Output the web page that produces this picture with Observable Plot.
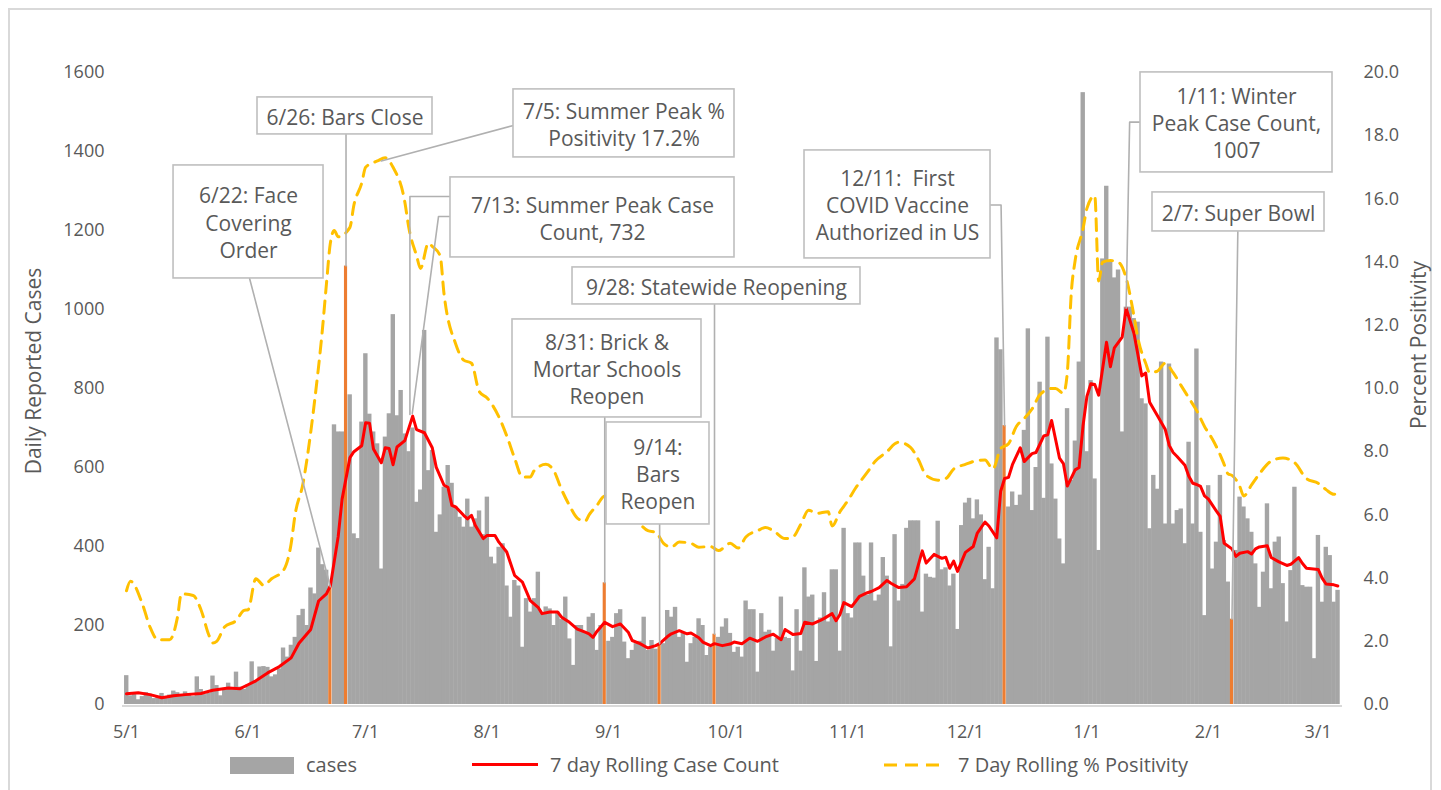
<!DOCTYPE html>
<html>
<head>
<meta charset="utf-8">
<script src="https://cdn.jsdelivr.net/npm/d3@7"></script>
<script src="https://cdn.jsdelivr.net/npm/@observablehq/plot@0.6"></script>
<style>
  body { margin: 0; background: #fff; font-family: "Open Sans", sans-serif; }
  #wrap { position: relative; width: 1441px; height: 790px; overflow: hidden; background: #fff; }
  #frame { position: absolute; left: 8px; top: 8px; width: 1424px; height: 800px; border: 2px solid #d9d9d9; box-sizing: border-box; }
  #chart { position: absolute; left: 0; top: 0; }
  .title { position: absolute; font-size: 21px; color: #595959; white-space: nowrap; transform: translate(-50%, -50%) rotate(-90deg); }
  .legt { position: absolute; font-size: 20px; color: #595959; white-space: nowrap; transform: translateY(-50%); line-height: 1; }
  .legbox { position: absolute; }
</style>
</head>
<body>
<div id="wrap">
  <div id="frame"></div>
  <div id="chart"></div>
  <div class="title" style="left:33px;top:371px;">Daily Reported Cases</div>
  <div class="title" style="left:1418px;top:345px;">Percent Positivity</div>
  <div class="legbox" style="left:230px;top:757px;width:64px;height:17px;background:#a5a5a5;"></div>
  <div class="legt" style="left:306px;top:765px;">cases</div>
  <div class="legbox" style="left:472px;top:763px;width:66px;height:3px;background:#ff0000;"></div>
  <div class="legt" style="left:550px;top:765px;">7 day Rolling Case Count</div>
  <svg class="legbox" style="left:884px;top:759px;" width="62" height="12"><line x1="0" y1="6" x2="62" y2="6" stroke="#ffc000" stroke-width="3" stroke-dasharray="13,8"></line></svg>
  <div class="legt" style="left:958px;top:765px;">7 Day Rolling % Positivity</div>
</div>
<script>
// ---------------- DATA ----------------
const startDay = "2020-05-01";

// daily reported cases, one value per day from 5/1/2020
const cases = [
  73, 22, 28, 12, 20, 30, 26, 15, 18, 28,
  20, 24, 34, 30, 22, 32, 28, 20, 70, 38,
  25, 28, 72, 48, 22, 36, 54, 40, 82, 44,
  38, 50, 108, 60, 95, 96, 94, 70, 75, 90,
  143, 120, 150, 170, 225, 241, 200, 295, 280, 396,
  354, 340, 298, 708, 690, 690, 1110, 784, 432, 420,
  715, 888, 735, 690, 660, 343, 677, 736, 987, 731,
  795, 685, 640, 700, 512, 543, 947, 592, 643, 436,
  480, 550, 605, 560, 500, 474, 449, 520, 449, 470,
  490, 430, 525, 373, 356, 398, 407, 300, 221, 314,
  300, 145, 268, 234, 268, 335, 230, 247, 242, 200,
  234, 215, 272, 166, 99, 200, 200, 180, 221, 230,
  137, 200, 308, 160, 170, 230, 240, 158, 116, 137,
  154, 160, 221, 137, 162, 140, 154, 154, 238, 221,
  246, 170, 180, 107, 154, 170, 217, 200, 124, 145,
  178, 170, 196, 217, 180, 132, 145, 120, 262, 240,
  240, 82, 230, 183, 188, 135, 167, 272, 170, 167,
  85, 240, 135, 346, 272, 277, 109, 219, 283, 209,
  341, 341, 135, 446, 230, 219, 409, 409, 325, 277,
  409, 262, 277, 372, 325, 146, 430, 262, 304, 446,
  465, 465, 465, 234, 330, 322, 320, 464, 341, 346,
  300, 330, 190, 453, 510, 522, 470, 518, 480, 316,
  398, 293, 928, 898, 706, 500, 538, 504, 530, 694,
  951, 491, 600, 816, 522, 930, 609, 520, 419, 356,
  749, 567, 667, 867, 1549, 640, 820, 571, 390, 1128,
  1312, 1124, 1080, 1100, 690, 1006, 1006, 977, 968, 774,
  761, 445, 580, 545, 867, 457, 862, 457, 491, 495,
  407, 664, 457, 900, 436, 225, 554, 343, 411, 580,
  415, 310, 216, 390, 525, 500, 470, 436, 356, 246,
  335, 508, 293, 411, 424, 306, 209, 339, 550, 365,
  301, 297, 297, 116, 428, 259, 398, 377, 259, 289
];

// days highlighted in orange (event days)
const eventDates = ["2020-06-22", "2020-06-26", "2020-08-31", "2020-09-14", "2020-09-28", "2020-12-11", "2021-02-07"];

// 7 day rolling case count (day offset from 5/1, value)
const rollingDays = [0,3,6,9,12,15,19,22,26,29,31,33,36,39,42,44,47,49,51,52,54,55,57,58,60,61,62,63,65,66,67,68,69,71,73,74,76,78,79,81,82,83,84,86,87,88,89,91,92,94,95,97,99,101,103,105,106,108,110,111,113,115,117,118,119,120,122,124,126,128,129,131,133,135,136,138,139,141,143,144,146,147,149,150,152,154,155,157,159,161,163,165,167,168,170,172,173,175,177,178,180,181,182,183,185,187,189,190,192,194,195,197,199,201,203,204,206,208,209,210,211,212,214,216,217,219,220,222,223,224,225,226,228,229,231,232,234,235,236,238,239,240,242,243,244,245,246,247,248,249,250,251,252,254,255,257,258,259,260,261,263,265,266,267,268,270,271,272,273,274,275,276,278,279,280,282,283,284,286,287,288,289,291,292,294,296,297,299,300,301,304,305,306,308,309];
const rollingValues = [27,30,25,17,22,25,28,36,42,40,50,60,80,96,118,155,190,262,280,300,425,520,625,640,655,713,712,647,612,650,648,607,652,668,730,696,688,650,601,555,550,504,500,479,470,479,453,420,428,428,411,386,327,310,263,246,230,234,234,221,208,191,183,179,170,185,208,197,204,183,162,154,143,149,154,172,179,187,179,181,169,158,149,154,149,153,158,154,168,160,171,178,164,190,177,180,208,204,213,218,230,212,228,258,248,274,283,286,296,314,307,296,298,318,389,358,380,370,373,345,363,337,385,400,433,462,452,422,540,572,575,607,650,615,635,638,680,683,719,624,610,553,594,600,705,780,812,810,783,850,917,855,903,930,1003,940,886,832,839,765,731,696,656,638,628,606,578,560,557,552,528,520,490,476,408,394,375,383,387,381,394,399,402,372,361,352,355,372,357,345,342,320,305,303,300];

// 7 day rolling % positivity (day offset from 5/1, percent)
const positivityDays = [0,1,4,6,8,11,13,14,17,19,21,22,23,25,28,30,31,33,35,37,40,42,43,45,47,48,50,51,52,53,54,57,58,60,61,64,66,68,71,72,74,75,77,78,80,81,84,86,88,90,92,95,97,99,101,103,104,107,109,111,113,115,117,118,120,122,125,128,131,133,135,137,139,141,144,146,149,151,154,156,158,161,163,165,168,170,172,174,176,179,180,182,184,186,189,191,194,196,197,200,202,204,207,209,211,214,217,219,221,223,225,227,229,231,233,236,237,239,240,241,242,244,245,247,248,249,251,253,255,257,258,260,261,263,265,267,269,271,273,275,277,279,280,281,282,284,285,287,289,292,295,298,301,304,306,308,309];
const positivityValues = [3.6,3.9,3.2,2.45,2.05,2.05,2.76,3.5,3.45,3.0,2.2,1.95,2.0,2.45,2.66,2.98,3.0,3.98,3.77,3.98,4.24,5.09,6.0,6.98,8.62,9.62,11.9,13.3,14.6,15.0,14.8,15.1,15.8,16.5,17.0,17.2,17.3,17.0,15.9,15.1,14.2,13.8,14.6,14.5,14.2,13.0,11.4,10.9,10.8,9.9,9.7,9.1,8.5,7.8,7.2,7.2,7.4,7.6,7.4,6.8,6.3,5.9,5.8,6.0,6.3,6.6,6.3,6.0,5.7,5.5,5.45,5.1,4.98,5.14,5.1,4.98,5.0,4.87,5.1,4.95,5.3,5.5,5.6,5.5,5.25,5.3,5.7,6.15,6.05,6.1,5.65,6.1,6.45,6.85,7.35,7.7,8.0,8.25,8.3,8.14,7.75,7.25,7.1,7.15,7.45,7.6,7.72,7.74,7.45,8.1,8.25,8.8,9.05,9.35,9.8,10.0,10.0,9.85,10.5,13.0,14.05,15.05,15.7,16.1,13.4,14.0,14.05,14.0,13.5,12.3,11.6,10.8,10.5,10.55,10.8,10.5,10.1,9.7,9.3,8.8,8.4,7.9,7.6,7.3,7.25,6.9,6.6,6.95,7.3,7.7,7.8,7.65,7.15,7.0,6.8,6.65,6.75];

// axis ticks
const leftTicks = [0, 200, 400, 600, 800, 1000, 1200, 1400, 1600];
const rightTicks = [0, 2, 4, 6, 8, 10, 12, 14, 16, 18, 20];
const monthTicks = ["2020-05-01","2020-06-01","2020-07-01","2020-08-01","2020-09-01","2020-10-01","2020-11-01","2020-12-01","2021-01-01","2021-02-01","2021-03-01"];

// annotation texts
const annotationLabels = [
  "6/22: Face\nCovering\nOrder",
  "6/26: Bars Close",
  "7/5: Summer Peak %\nPositivity 17.2%",
  "7/13: Summer Peak Case\nCount, 732",
  "8/31: Brick &\nMortar Schools\nReopen",
  "9/14:\nBars\nReopen",
  "9/28: Statewide Reopening",
  "12/11:  First\nCOVID Vaccine\nAuthorized in US",
  "1/11: Winter\nPeak Case Count,\n1007",
  "2/7: Super Bowl"
];

// ---------------- LAYOUT (annotation placement in data units: day offset, case count) ----------------
const annotationLayout = [
  {box: [12.0, 50.26, 1078.6, 1364.7], leaders: [[[31.4, 1078.6], [52, 298]]]},
  {box: [33.42, 78.06, 1443.2, 1536.9], leaders: [[[56, 1443.2], [56, 1110]]]},
  {box: [98.72, 155.10, 1385.0, 1557.2], leaders: [[[98.72, 1466], [65, 1376]]]},
  {box: [82.65, 155.10, 1131.8, 1334.4], leaders: [[[82.65, 1286], [72.3, 1286], [72.3, 734]], [[82.65, 1235.6], [79.6, 1235.6], [72.9, 737]]]},
  {box: [98.47, 146.68, 726.7, 974.8], leaders: [[[122, 726.7], [122, 308]]]},
  {box: [122.45, 148.72, 455.8, 714.0], leaders: [[[136, 455.8], [136, 154]]]},
  {box: [113.78, 187.24, 1012.8, 1106.5], leaders: [[[150, 1012.8], [150, 178]]]},
  {box: [172.96, 220.41, 1129.3, 1402.7], leaders: [[[220.41, 1264.5], [223.1, 1264.5], [224, 706]]]},
  {box: [258.67, 307.65, 1347.0, 1600.2], leaders: [[[258.67, 1474.4], [255.9, 1474.4], [255, 1003]]]},
  {box: [261.73, 305.61, 1197.6, 1296.4], leaders: [[[283.5, 1197.6], [282, 216]]]}
];

// ---------------- BUILD ----------------
const start = new Date(startDay + "T00:00:00Z");
const dayDate = d => new Date(start.getTime() + d * 864e5);
const eventIdx = new Set(eventDates.map(s => Math.round((new Date(s + "T00:00:00Z") - start) / 864e5)));

const caseRows = cases.map((v, i) => ({i, cases: v, event: eventIdx.has(i)}));
const rollingRows = rollingDays.map((d, k) => ({date: dayDate(d), value: rollingValues[k]}));
const posRows = positivityDays.map((d, k) => ({date: dayDate(d), pct: positivityValues[k]}));
const PCT = 1600 / 20; // right axis 0-20 maps onto left axis 0-1600

const boxes = annotationLabels.map((label, k) => {
  const [d1, d2, v1, v2] = annotationLayout[k].box;
  return {label, x1: dayDate(d1), x2: dayDate(d2), y1: v1, y2: v2, cx: dayDate((d1 + d2) / 2), cy: (v1 + v2) / 2};
});
const leaderPts = [];
annotationLayout.forEach((a, k) => a.leaders.forEach((pts, j) => pts.forEach(([d, v]) => leaderPts.push({id: k + "-" + j, date: dayDate(d), value: v}))));

const chart = Plot.plot({
  width: 1441,
  height: 750,
  marginTop: 72,
  marginBottom: 46,
  marginLeft: 122,
  marginRight: 99,
  style: {fontFamily: "'Open Sans', sans-serif", fontSize: "18px", color: "#595959", background: "transparent", overflow: "visible"},
  x: {type: "utc", domain: [dayDate(-1.02), dayDate(310.2)]},
  y: {domain: [0, 1600]},
  marks: [
    Plot.rect(caseRows.filter(r => !r.event), {x1: r => dayDate(r.i - 0.5), x2: r => dayDate(r.i + 0.62), y1: 0, y2: "cases", fill: "#a5a5a5"}),
    Plot.rect(caseRows.filter(r => r.event), {x1: r => dayDate(r.i - 0.4), x2: r => dayDate(r.i + 0.4), y1: 0, y2: "cases", fill: "#ed7d31"}),
    Plot.ruleY([0], {stroke: "#d9d9d9", strokeWidth: 2, dy: 1.5}),
    Plot.line(rollingRows, {x: "date", y: "value", stroke: "#ff0000", strokeWidth: 3, strokeLinejoin: "round"}),
    Plot.line(posRows, {x: "date", y: d => d.pct * PCT, stroke: "#ffc000", strokeWidth: 3, strokeDasharray: "12,8", curve: "monotone-x"}),
    Plot.line(leaderPts, {x: "date", y: "value", z: "id", stroke: "#b0b0b0", strokeWidth: 1.6}),
    Plot.rect(boxes, {x1: "x1", x2: "x2", y1: "y1", y2: "y2", fill: "white", stroke: "#bfbfbf", strokeWidth: 1.6}),
    Plot.text(boxes, {x: "cx", y: "cy", text: "label", fontSize: 21, lineHeight: 1.3, fill: "#595959", fontFamily: "'Open Sans', sans-serif", lineAnchor: "middle", textAnchor: "middle"}),
    Plot.axisY({anchor: "left", ticks: leftTicks, tickFormat: d3.format("d"), tickSize: 0, tickPadding: 18, label: null}),
    Plot.axisY({anchor: "right", ticks: rightTicks.map(t => t * PCT), tickFormat: v => (v / PCT).toFixed(1), tickSize: 0, tickPadding: 21, label: null}),
    Plot.axisX({ticks: monthTicks.map(s => new Date(s + "T00:00:00Z")), tickFormat: d => `${d.getUTCMonth() + 1}/${d.getUTCDate()}`, tickSize: 0, tickPadding: 21, label: null})
  ]
});
document.getElementById("chart").appendChild(chart);
</script>
</body>
</html>
